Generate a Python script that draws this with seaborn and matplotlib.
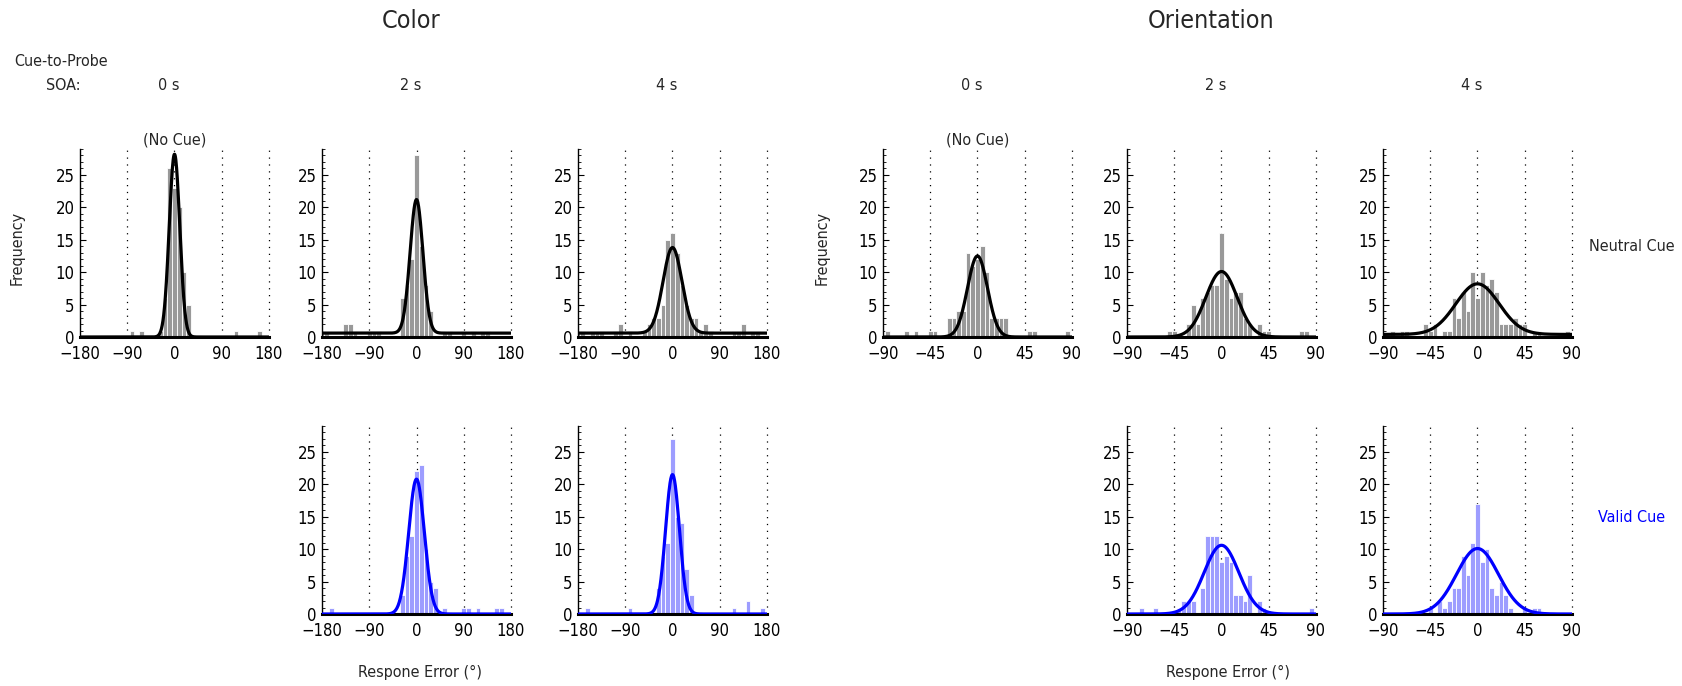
import numpy as np
import pandas as pd
import matplotlib
matplotlib.use("Agg")
import matplotlib.pyplot as plt
import matplotlib.transforms as mtransforms
import seaborn as sns
from matplotlib import font_manager
from matplotlib.ticker import MultipleLocator

sns.set_theme(style="white")

# prefer a narrow sans face when one is available
_fonts = font_manager.fontManager.ttflist
_narrow = [f.name for f in _fonts
           if ("Narrow" in f.name or "Condensed" in f.name
               or str(f.stretch) in ("condensed", "semi-condensed", "500", "75", "87.5"))
           and "Mono" not in f.name and "Serif" not in f.name]
_family = _narrow[0] if _narrow else "Liberation Sans"
_condensed = bool(_narrow)
plt.rcParams["font.family"] = [_family, "DejaVu Sans"]
if _condensed:
    plt.rcParams["font.stretch"] = "condensed"

# ---------------------------------------------------------------- data
# bin centres (41 bins each)
color_centers = np.arange(-180, 181, 9)
orient_centers = np.arange(-90, 90.1, 4.5)

# response-error counts per bin
color_0s_neutral = [0, 0, 0, 0, 0, 0, 0, 0, 0, 0, 0, 1, 0, 1, 0, 0, 0, 1, 6, 26,
                    23, 20, 10, 5, 0, 0, 0, 0, 0, 0, 0, 0, 0, 1, 0, 0, 0, 0, 1, 0, 0]
color_2s_neutral = [1, 1, 0, 0, 0, 2, 2, 1, 0, 0, 1, 1, 1, 0, 0, 0, 0, 6, 8, 12,
                    28, 14, 8, 4, 0, 0, 1, 1, 0, 0, 1, 0, 1, 0, 1, 1, 0, 0, 0, 0, 0]
color_4s_neutral = [1, 1, 0, 1, 1, 1, 0, 0, 1, 2, 0, 1, 0, 0, 1, 2, 3, 3, 5, 15,
                    16, 13, 8, 5, 3, 3, 1, 2, 1, 0, 0, 0, 0, 1, 1, 2, 0, 1, 1, 0, 0]
color_2s_valid = [0, 0, 1, 0, 0, 0, 0, 0, 0, 0, 0, 0, 0, 0, 0, 0, 0, 3, 9, 12,
                  22, 23, 10, 5, 4, 0, 1, 0, 0, 0, 1, 1, 0, 1, 0, 0, 0, 1, 1, 0, 0]
color_4s_valid = [0, 0, 1, 0, 0, 0, 0, 0, 0, 0, 0, 1, 0, 0, 0, 0, 0, 4, 9, 11,
                  27, 15, 14, 7, 3, 0, 0, 0, 0, 0, 0, 0, 0, 1, 0, 0, 2, 0, 0, 1, 0]

orient_0s_neutral = [0, 1, 0, 0, 0, 1, 0, 1, 0, 0, 1, 1, 0, 0, 3, 3, 4, 4, 13, 11,
                     12, 14, 10, 3, 3, 3, 3, 0, 0, 0, 0, 1, 1, 0, 0, 0, 0, 0, 0, 1, 0]
orient_2s_neutral = [0, 0, 0, 0, 0, 0, 0, 0, 0, 1, 1, 0, 0, 2, 5, 2, 6, 7, 8, 8,
                     16, 9, 6, 7, 7, 3, 2, 0, 2, 1, 1, 0, 0, 0, 0, 0, 0, 1, 1, 0, 0]
orient_4s_neutral = [0, 0, 1, 0, 1, 1, 0, 0, 0, 2, 1, 2, 0, 1, 1, 6, 3, 7, 4, 10,
                     6, 10, 8, 9, 7, 2, 2, 2, 3, 2, 2, 0, 1, 1, 0, 0, 0, 0, 0, 1, 0]
orient_2s_valid = [0, 0, 0, 1, 0, 0, 1, 0, 0, 0, 0, 1, 2, 2, 2, 0, 4, 12, 12, 12,
                   8, 9, 8, 3, 3, 2, 6, 0, 2, 1, 0, 0, 0, 0, 0, 0, 0, 0, 0, 1, 0]
orient_4s_valid = [0, 0, 0, 0, 0, 0, 0, 0, 0, 0, 1, 0, 2, 1, 2, 4, 4, 9, 6, 11,
                   17, 8, 10, 4, 3, 5, 3, 1, 0, 0, 1, 0, 1, 1, 0, 0, 0, 0, 0, 0, 0]

# fitted mixture model per panel: peak height, spread (deg), guessing floor
fit_peak = {"c0n": 28.2, "c2n": 21.2, "c4n": 13.8, "c2v": 20.8, "c4v": 21.5,
            "o0n": 12.5, "o2n": 10.1, "o4n": 8.2, "o2v": 10.6, "o4v": 10.1}
fit_sd = {"c0n": 10.0, "c2n": 12.2, "c4n": 18.0, "c2v": 14.9, "c4v": 13.2,
          "o0n": 9.5, "o2n": 14.9, "o4n": 20.6, "o2v": 16.5, "o4v": 20.0}
fit_base = {"c0n": 0.0, "c2n": 0.6, "c4n": 0.6, "c2v": 0.0, "c4v": 0.0,
            "o0n": 0.0, "o2n": 0.0, "o4n": 0.4, "o2v": 0.0, "o4v": 0.0}

soa_labels = ["0 s", "2 s", "4 s"]
color_ticks = [-180, -90, 0, 90, 180]
orient_ticks = [-90, -45, 0, 45, 90]

# ---------------------------------------------------------------- layout
W, H = 1683, 686
fig = plt.figure(figsize=(W / 100, H / 100), dpi=100)


def fx(px):
    return px / W


def fy(py):
    return 1 - py / H


col_left = [80, 322, 578, 883, 1127, 1383]
ax_w = 189
row_top = [149, 426]
ax_h = 188

GRAY_BAR = "#999999"
BLUE_BAR = "#9d9dff"
BLUE = "#0000ff"
TICK_FS = 12 if _condensed else 11.5
LABEL_FS = 11.5 if _condensed else 10.5
TITLE_FS = 18 if _condensed else 16

panels = [
    ("c0n", color_0s_neutral, "color", 0, 0),
    ("c2n", color_2s_neutral, "color", 1, 0),
    ("c4n", color_4s_neutral, "color", 2, 0),
    ("c2v", color_2s_valid, "color", 1, 1),
    ("c4v", color_4s_valid, "color", 2, 1),
    ("o0n", orient_0s_neutral, "orient", 3, 0),
    ("o2n", orient_2s_neutral, "orient", 4, 0),
    ("o4n", orient_4s_neutral, "orient", 5, 0),
    ("o2v", orient_2s_valid, "orient", 4, 1),
    ("o4v", orient_4s_valid, "orient", 5, 1),
]

# negative tick labels sit slightly left of their tick
neg_shift = mtransforms.ScaledTranslation(-4 / 100, 0, fig.dpi_scale_trans)

axes = {}
for key, counts, feat, col, row in panels:
    left = col_left[col]
    top = row_top[row]
    ax = fig.add_axes([fx(left), fy(top + ax_h), ax_w / W, ax_h / H])
    axes[key] = ax

    if feat == "color":
        centers, step, ticks = color_centers, 9.0, color_ticks
    else:
        centers, step, ticks = orient_centers, 4.5, orient_ticks
    lo, hi = ticks[0], ticks[-1]

    valid = row == 1
    bar_c = BLUE_BAR if valid else GRAY_BAR
    line_c = BLUE if valid else "black"

    df = pd.DataFrame({"err": centers, "n": np.asarray(counts, float)})
    sns.histplot(data=df, x="err", weights="n", binwidth=step,
                 binrange=(float(centers[0] - step / 2), float(centers[-1] + step / 2)),
                 color=bar_c, edgecolor="white", linewidth=0.6, alpha=1.0,
                 ax=ax, zorder=2)

    # reference lines
    for t in ticks[1:]:
        ax.axvline(t, color="black", lw=0.9, linestyle=(0, (1, 4.5)),
                   zorder=1, clip_on=False)

    xs = np.linspace(lo, hi, 500)
    ys = fit_base[key] + (fit_peak[key] - fit_base[key]) * np.exp(-xs ** 2 / (2 * fit_sd[key] ** 2))
    sns.lineplot(x=xs, y=ys, color=line_c, lw=2.3, ax=ax, zorder=4)

    ax.set_xlim(lo, hi)
    ax.set_ylim(0, 29)
    ax.set_xticks(ticks)
    ax.set_xticklabels([str(t).replace("-", "\u2212") for t in ticks])
    for t, lab in zip(ticks, ax.get_xticklabels()):
        if t < 0:
            lab.set_transform(lab.get_transform() + neg_shift)
    ax.set_yticks([0, 5, 10, 15, 20, 25])
    ax.yaxis.set_minor_locator(MultipleLocator(1))
    ax.tick_params(axis="x", length=0, pad=6, labelsize=TICK_FS, colors="black")
    ax.tick_params(axis="y", which="major", direction="in", length=4, width=0.8,
                   pad=4, labelsize=TICK_FS, colors="black", left=True)
    ax.tick_params(axis="y", which="minor", direction="in", length=2, width=0.6,
                   colors="black", left=True)
    for s in ("top", "right"):
        ax.spines[s].set_visible(False)
    ax.spines["left"].set_color("black")
    ax.spines["left"].set_linewidth(1.0)
    ax.spines["bottom"].set_color("black")
    ax.spines["bottom"].set_linewidth(2.2)
    ax.spines["bottom"].set_zorder(3)
    ax.set_xlabel("")
    ax.set_ylabel("")
    ax.set_facecolor("white")
    ax.grid(False)

# ---------------------------------------------------------------- text
fig.text(fx(411), fy(21), "Color", ha="center", va="center", fontsize=TITLE_FS)
fig.text(fx(1211), fy(21), "Orientation", ha="center", va="center", fontsize=TITLE_FS)
fig.text(fx(61), fy(61), "Cue-to-Probe", ha="center", va="center", fontsize=LABEL_FS)
fig.text(fx(63), fy(86), "SOA:", ha="center", va="center", fontsize=LABEL_FS)

for i, lab in enumerate(soa_labels * 2):
    cx = col_left[i] + ax_w / 2 - 6
    fig.text(fx(cx), fy(86), lab, ha="center", va="center", fontsize=LABEL_FS)

for key in ("c0n", "o0n"):
    axes[key].set_title("(No Cue)", fontsize=LABEL_FS, pad=3)

fig.text(fx(17), fy(248), "Frequency", rotation=90, ha="center", va="center", fontsize=LABEL_FS)
fig.text(fx(822), fy(248), "Frequency", rotation=90, ha="center", va="center", fontsize=LABEL_FS)

fig.text(fx(1632), fy(247), "Neutral Cue", ha="center", va="center", fontsize=LABEL_FS)
fig.text(fx(1632), fy(518), "Valid Cue", ha="center", va="center", fontsize=LABEL_FS, color=BLUE)

fig.text(fx(420), fy(672), "Respone Error (\u00b0)", ha="center", va="center", fontsize=LABEL_FS)
fig.text(fx(1228), fy(672), "Respone Error (\u00b0)", ha="center", va="center", fontsize=LABEL_FS)

fig.savefig("out.png", dpi=100, facecolor="white")
